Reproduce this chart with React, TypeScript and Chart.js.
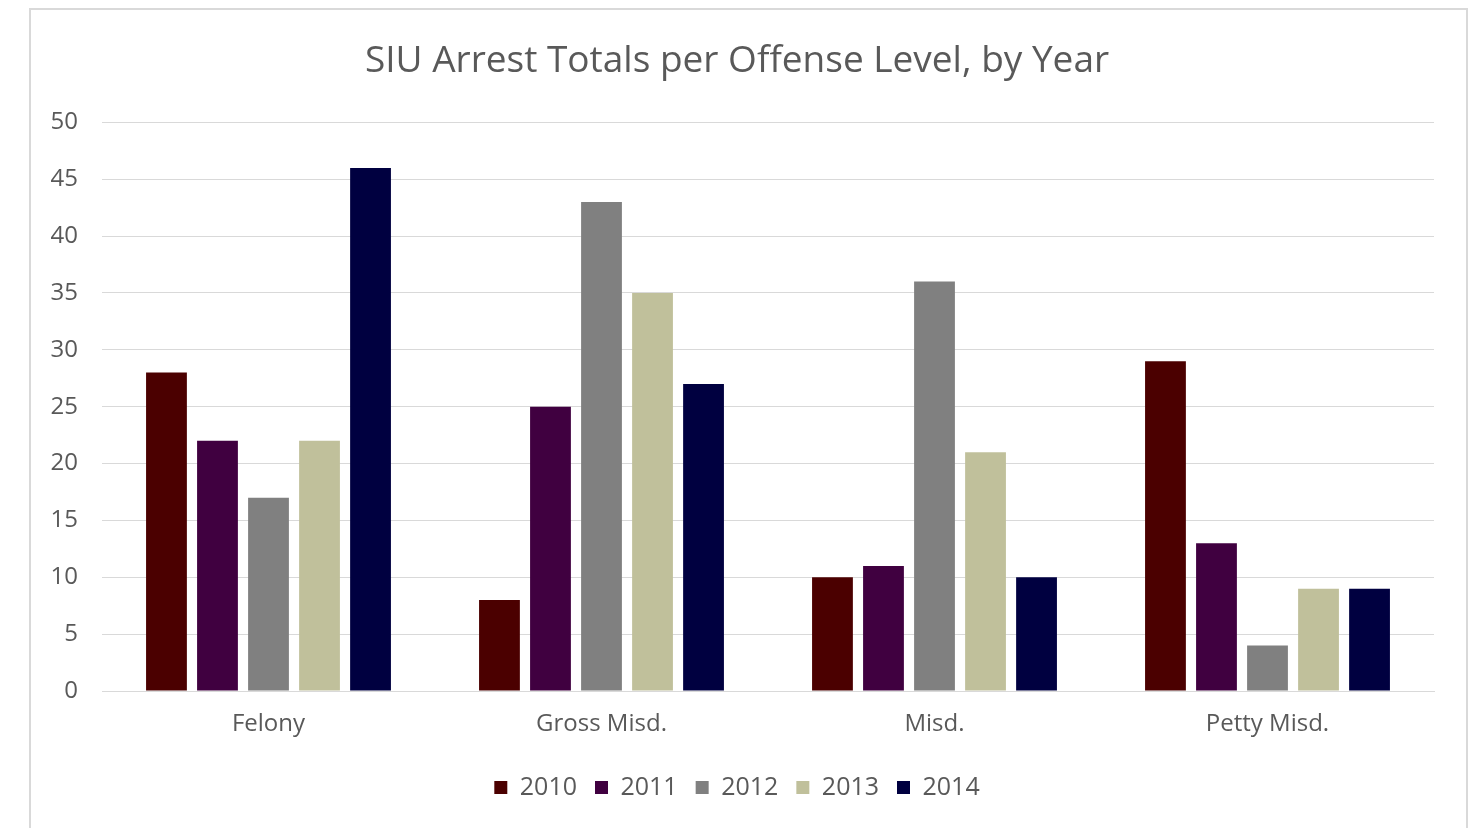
import React, { useEffect, useRef } from "react";
import { Chart, registerables } from "chart.js";

Chart.register(...registerables);

const categories = ["Felony", "Gross Misd.", "Misd.", "Petty Misd."];
const years = ["2010", "2011", "2012", "2013", "2014"];
const values2010 = [28, 8, 10, 29];
const values2011 = [22, 25, 11, 13];
const values2012 = [17, 43, 36, 4];
const values2013 = [22, 35, 21, 9];
const values2014 = [46, 27, 10, 9];
const colors = ["#4b0000", "#400040", "#808080", "#c0c09b", "#000040"];
const titleText = "SIU Arrest Totals per Offense Level, by Year";

const FONT = "'Open Sans', sans-serif";
const TEXT = "#595959";

export default function App() {
  const ref = useRef<HTMLCanvasElement | null>(null);
  useEffect(() => {
    if (!ref.current) return;
    const series = [values2010, values2011, values2012, values2013, values2014];
    const chart = new Chart(ref.current, {
      type: "bar",
      data: {
        labels: categories,
        datasets: years.map((y, i) => ({
          label: y,
          data: series[i],
          backgroundColor: colors[i],
          borderWidth: 0,
          barPercentage: 0.8,
          categoryPercentage: 0.766,
        })),
      },
      options: {
        animation: false,
        responsive: false,
        layout: { padding: { left: 40, right: 42, top: 20, bottom: 18 } },
        plugins: {
          tooltip: { enabled: false },
          title: {
            display: true,
            text: titleText,
            color: TEXT,
            font: { family: FONT, size: 37, weight: "normal" },
            padding: { top: 19, bottom: 39 },
          },
          legend: {
            position: "bottom",
            labels: {
              color: TEXT,
              font: { family: FONT, size: 25 },
              boxWidth: 13,
              boxHeight: 13,
              padding: 18,
            },
          },
        },
        scales: {
          x: {
            grid: { display: false, drawTicks: false },
            border: { display: true, color: "#d9d9d9", width: 1 },
            ticks: { color: TEXT, font: { family: FONT, size: 24 }, padding: 19 },
            afterFit: (s: any) => { s.height = 66; },
          },
          y: {
            min: 0,
            max: 50,
            ticks: { stepSize: 5, color: TEXT, font: { family: FONT, size: 24 }, padding: 24 },
            grid: { color: "#d9d9d9", lineWidth: 1, drawTicks: false },
            border: { display: false },
            afterFit: (s: any) => { s.width = 62; },
          },
        },
      },
    });
    return () => chart.destroy();
  }, []);
  return (
    <>
      <div
        style={{
          position: "fixed",
          left: 29,
          top: 8,
          width: 1439,
          height: 840,
          border: "2px solid #d9d9d9",
          boxSizing: "border-box",
          background: "#fff",
        }}
      />
      <canvas
        ref={ref}
        width={1476}
        height={828}
        style={{ position: "fixed", left: 0, top: 0, width: 1476, height: 828 }}
      />
    </>
  );
}
